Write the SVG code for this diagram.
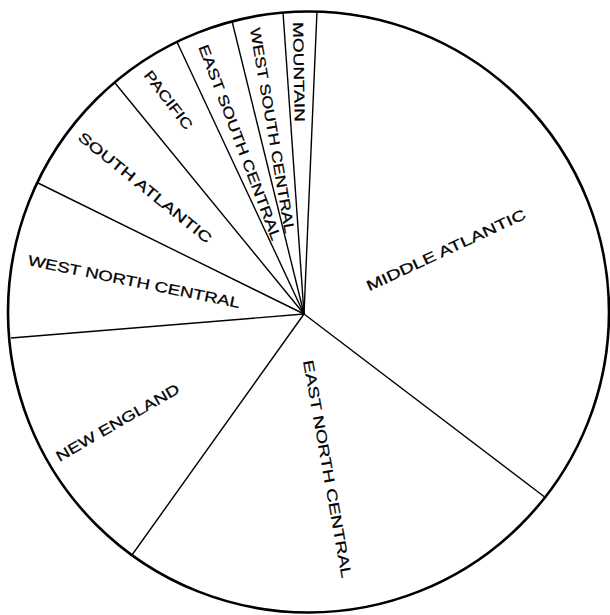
<svg xmlns="http://www.w3.org/2000/svg" width="610" height="615" viewBox="0 0 610 615">
<style>
.rim{fill:#fff;stroke:#000;stroke-width:2.6}
.sp{stroke:#000;stroke-width:1.4;fill:none}
.lb{font-family:"Liberation Sans",Arial,sans-serif;font-size:14.5px;fill:#000;stroke:#000;stroke-width:0.25;text-anchor:middle}
</style>
<rect width="610" height="615" fill="#fff"/>
<circle class="rim" cx="308.5" cy="312" r="300.5"/>
<g id="connectors">
<line class="sp" x1="304" y1="314" x2="317" y2="11"/>
<line class="sp" x1="304" y1="314" x2="283" y2="12"/>
<line class="sp" x1="304" y1="314" x2="232" y2="21"/>
<line class="sp" x1="304" y1="314" x2="177" y2="42"/>
<line class="sp" x1="304" y1="314" x2="115" y2="83"/>
<line class="sp" x1="304" y1="314" x2="38" y2="183"/>
<line class="sp" x1="304" y1="314" x2="11" y2="338"/>
<line class="sp" x1="304" y1="314" x2="132" y2="555"/>
<line class="sp" x1="304" y1="314" x2="546" y2="498"/>
</g>
<g id="mountain"><text class="lb" transform="translate(299,72) rotate(89)" dy="0.35em" textLength="100" lengthAdjust="spacingAndGlyphs">MOUNTAIN</text></g>
<g id="west-south-central"><text class="lb" transform="translate(272.5,130.5) rotate(80.3)" dy="0.35em" textLength="208" lengthAdjust="spacingAndGlyphs">WEST SOUTH CENTRAL</text></g>
<g id="east-south-central"><text class="lb" transform="translate(240,142.5) rotate(69.2)" dy="0.35em" textLength="208" lengthAdjust="spacingAndGlyphs">EAST SOUTH CENTRAL</text></g>
<g id="pacific"><text class="lb" transform="translate(168.5,100) rotate(52.5)" dy="0.35em" textLength="70" lengthAdjust="spacingAndGlyphs">PACIFIC</text></g>
<g id="south-atlantic"><text class="lb" transform="translate(145,187.5) rotate(39)" dy="0.35em" textLength="167" lengthAdjust="spacingAndGlyphs">SOUTH ATLANTIC</text></g>
<g id="west-north-central"><text class="lb" transform="translate(134,281.5) rotate(11.5)" dy="0.35em" textLength="216" lengthAdjust="spacingAndGlyphs">WEST NORTH CENTRAL</text></g>
<g id="new-england"><text class="lb" transform="translate(117.5,422.5) rotate(-30)" dy="0.35em" textLength="140" lengthAdjust="spacingAndGlyphs">NEW ENGLAND</text></g>
<g id="middle-atlantic"><text class="lb" transform="translate(446,250) rotate(-25)" dy="0.35em" textLength="174" lengthAdjust="spacingAndGlyphs">MIDDLE ATLANTIC</text></g>
<g id="east-north-central"><text class="lb" transform="translate(327.5,469) rotate(79.9)" dy="0.35em" textLength="221" lengthAdjust="spacingAndGlyphs">EAST NORTH CENTRAL</text></g>
</svg>
